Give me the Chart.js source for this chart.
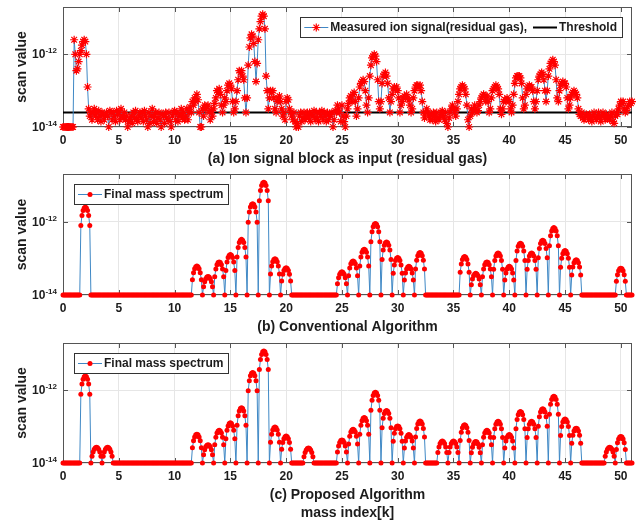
<!DOCTYPE html>
<html><head><meta charset="utf-8">
<script src="https://cdn.jsdelivr.net/npm/chart.js@4/dist/chart.umd.min.js"></script>
<style>
html,body{margin:0;padding:0;background:#fff;}
#wrap{position:relative;width:641px;height:524px;overflow:hidden;background:#fff;}
canvas{position:absolute;left:0;}
</style></head><body>
<div id="wrap">
<canvas id="ca" width="641" height="170" style="top:0px"></canvas>
<canvas id="cb" width="641" height="168" style="top:170px"></canvas>
<canvas id="cc" width="641" height="186" style="top:338px"></canvas>
</div>
<script>
// ---------- data ----------
const floorValue = 1e-14;
const thresholdValue = 2.5e-14;
const yMin = 1e-14, yMax = 2e-11;
const xMin = 0, xMax = 51;
const xTickValues = [0,5,10,15,20,25,30,35,40,45,50];
const yTickValues = [1e-14, 1e-12];
const yTickExponents = ['-14', '-12'];
const samplesPerMass = 10;

// measured ion signal, log10 of scan value, one row per mass unit (x = n.0 ... n.9)
const measuredLog10 = [
 -14,-14,-14,-14,-14,-14,-14,-14,-14,-14,
 -11.6,-12.0,-12.45,-12.4,-12.2,-12.0,-11.9,-11.75,-11.65,-11.6,
 -11.65,-12.0,-12.9,-13.5,-13.7,-13.6,-13.8,-13.6,-13.5,-13.7,
 -13.6,-13.8,-13.55,-13.7,-13.85,-13.6,-13.65,-13.8,-13.7,-13.6,
 -13.7,-14,-13.55,-13.6,-13.8,-13.6,-13.7,-13.85,-13.55,-13.65,
 -13.6,-13.8,-13.5,-13.7,-13.75,-13.6,-13.8,-13.7,-14,-13.85,
 -13.8,-13.7,-13.9,-13.6,-13.75,-13.55,-13.8,-13.85,-13.7,-13.6,
 -13.75,-13.6,-13.85,-13.55,-13.7,-13.8,-14,-13.6,-13.9,-13.7,
 -13.5,-13.85,-13.7,-13.6,-13.9,-13.75,-13.6,-13.8,-14,-13.65,
 -13.7,-13.9,-13.6,-13.75,-13.8,-13.6,-13.85,-14,-13.7,-13.6,
 -13.55,-13.8,-13.6,-13.85,-13.7,-13.65,-13.5,-13.75,-13.6,-13.8,
 -13.7,-13.5,-13.8,-13.6,-13.45,-13.6,-13.3,-13.4,-13.2,-13.3,
 -13.1,-13.25,-13.6,-14,-14,-13.5,-13.7,-13.4,-13.5,-13.45,
 -13.4,-13.6,-13.8,-13.55,-13.7,-13.5,-13.35,-13.2,-13.0,-13.05,
 -12.95,-13.1,-13.4,-13.6,-13.4,-13.2,-13.3,-13.0,-12.85,-12.8,
 -12.85,-12.95,-13.3,-13.6,-13.5,-13.3,-13.0,-12.7,-12.45,-12.5,
 -12.45,-12.6,-12.7,-13.2,-13.6,-13.2,-12.3,-11.8,-11.55,-11.45,
 -11.5,-11.7,-12.2,-12.75,-12.25,-11.6,-11.3,-11.1,-10.95,-10.9,
 -10.95,-11.3,-12.6,-13.0,-13.5,-13.2,-13.0,-13.05,-13.0,-13.2,
 -13.5,-13.6,-13.3,-13.2,-13.15,-13.3,-13.5,-13.7,-13.6,-13.8,
 -13.3,-13.2,-13.25,-13.5,-13.6,-13.7,-13.8,-13.6,-13.85,-14,
 -13.9,-14,-13.7,-13.6,-13.85,-13.75,-13.6,-13.8,-13.7,-13.6,
 -13.75,-13.6,-13.85,-13.65,-13.7,-13.55,-13.8,-13.6,-13.75,-13.85,
 -13.6,-13.7,-13.55,-13.8,-13.6,-13.7,-13.85,-13.6,-13.8,-13.65,
 -13.7,-13.6,-14,-13.8,-13.55,-13.6,-13.4,-13.5,-13.6,-13.85,
 -13.4,-13.7,-13.85,-14,-13.7,-13.5,-13.35,-13.2,-13.15,-13.3,
 -13.1,-13.05,-13.3,-13.7,-13.5,-13.2,-12.9,-12.8,-12.75,-12.7,
 -12.75,-13.0,-13.4,-13.6,-13.2,-12.6,-12.3,-12.1,-12.05,-12.0,
 -12.05,-12.2,-12.7,-13.3,-13.5,-13.3,-12.8,-12.6,-12.55,-12.5,
 -12.6,-12.8,-13.2,-13.6,-13.3,-13.1,-12.95,-12.9,-12.95,-12.9,
 -13.0,-13.2,-13.6,-13.4,-13.3,-13.2,-13.15,-13.2,-13.1,-13.2,
 -13.25,-13.4,-13.6,-13.5,-13.2,-13.0,-12.9,-12.85,-12.85,-12.9,
 -12.85,-13.0,-13.3,-13.6,-13.75,-13.6,-13.5,-13.6,-13.7,-13.8,
 -13.65,-13.8,-13.6,-13.7,-13.85,-13.6,-13.75,-13.8,-13.7,-13.6,
 -13.55,-13.7,-13.8,-13.6,-13.9,-14,-13.75,-13.6,-13.5,-13.4,
 -13.5,-13.6,-13.7,-13.5,-13.3,-13.1,-12.95,-12.9,-12.85,-12.9,
 -12.95,-13.1,-13.4,-13.8,-14,-13.7,-13.5,-13.6,-13.55,-13.4,
 -13.5,-13.6,-13.55,-13.4,-13.3,-13.2,-13.15,-13.1,-13.15,-13.3,
 -13.15,-13.3,-13.6,-13.5,-13.2,-13.0,-12.95,-12.9,-12.85,-12.9,
 -12.95,-13.1,-13.5,-13.65,-13.5,-13.3,-13.25,-13.3,-13.2,-13.25,
 -13.3,-13.5,-13.6,-13.4,-13.1,-12.8,-12.65,-12.6,-12.6,-12.6,
 -12.65,-12.8,-13.2,-13.5,-13.4,-13.1,-12.95,-12.9,-12.85,-12.9,
 -12.9,-13.0,-13.3,-13.5,-13.3,-13.0,-12.7,-12.6,-12.55,-12.5,
 -12.55,-12.7,-13.0,-13.3,-13.0,-12.6,-12.4,-12.25,-12.2,-12.15,
 -12.2,-12.3,-12.7,-13.2,-13.3,-13.0,-12.85,-12.8,-12.75,-12.8,
 -12.8,-12.9,-13.2,-13.5,-13.4,-13.2,-13.1,-13.05,-13.0,-13.05,
 -13.1,-13.2,-13.5,-13.65,-13.7,-13.6,-13.75,-13.8,-13.7,-13.65,
 -13.7,-13.8,-13.65,-13.75,-13.85,-13.7,-13.6,-13.75,-13.8,-13.7,
 -13.6,-13.75,-13.85,-13.7,-13.6,-13.7,-13.8,-13.65,-13.75,-13.7,
 -13.8,-13.7,-13.6,-13.85,-13.9,-13.7,-13.6,-13.65,-13.5,-13.4,
 -13.3,-13.35,-13.3,-13.5,-13.6,-13.55,-13.45,-13.4,-13.3,-13.35,
 -13.3
];

// peak tops of the final spectra
const convMasses  = [2,12,13,14,15,16,17,18,19,20,25,26,27,28,29,30,31,32,36,37,38,39,40,41,42,43,44,45,46,50];
const convHeights = [2.5e-12,6.2e-14,3.2e-14,8e-14,1.27e-13,3.3e-13,3.1e-12,1.2e-11,9.8e-14,5.5e-14,
                     4.3e-14,8.5e-14,1.78e-13,8.9e-13,2.8e-13,1.05e-13,6.1e-14,1.44e-13,
                     1.12e-13,3.9e-14,8e-14,1.41e-13,6.1e-14,2.6e-13,1.41e-13,3.1e-13,6.9e-13,1.63e-13,9.1e-14,5.4e-14];
const propMasses  = [2,3,4,12,13,14,15,16,17,18,19,20,22,25,26,27,28,29,30,31,32,34,35,36,37,38,39,40,41,42,43,44,45,46,49,50];
const propHeights = [2.5e-12,2.7e-14,2.7e-14,6.2e-14,3.2e-14,8e-14,1.27e-13,3.3e-13,3.1e-12,1.2e-11,9.8e-14,5.5e-14,2.6e-14,
                     4.3e-14,8.5e-14,1.78e-13,8.9e-13,2.8e-13,1.05e-13,6.1e-14,1.44e-13,4.0e-14,4.0e-14,
                     1.12e-13,3.9e-14,8e-14,1.41e-13,6.1e-14,2.6e-13,1.41e-13,3.1e-13,6.9e-13,1.63e-13,9.1e-14,2.7e-14,5.4e-14];
// relative dome shape of one peak, samples at offsets -0.4 ... +0.4
const domeProfile = [0.31,0.59,0.81,0.95,1,0.95,0.81,0.59,0.31];

// ---------- build point lists ----------
const measuredPoints = measuredLog10.map((e,i)=>({x:i/samplesPerMass, y:Math.pow(10,e)}));
const thresholdPoints = [{x:xMin,y:thresholdValue},{x:xMax,y:thresholdValue}];
function spectrumPoints(masses, heights){
  const pts=[];
  for(let i=0;i<measuredLog10.length;i++){
    const x=i/samplesPerMass, m=Math.round(x), off=i-m*samplesPerMass;
    const k=masses.indexOf(m);
    let v=floorValue;
    if(k>=0 && Math.abs(off)<=4) v=floorValue+(heights[k]-floorValue)*domeProfile[off+4];
    pts.push({x:x,y:v});
  }
  return pts;
}
const convPoints = spectrumPoints(convMasses, convHeights);
const propPoints = spectrumPoints(propMasses, propHeights);

// ---------- drawing ----------
const FONT = '"Liberation Sans", Arial, Helvetica, sans-serif';
const TXT = '#1c1c1c';
const BLUE = '#3f88c5';
const RED = '#ff0000';

const decorPlugin = {
  id:'decor',
  beforeDatasetsDraw(chart){
    const ctx=chart.ctx, a=chart.chartArea;
    ctx.save();
    ctx.strokeStyle='#555'; ctx.lineWidth=1;
    ctx.strokeRect(Math.round(a.left)+0.5, Math.round(a.top)+0.5, Math.round(a.right-a.left)-1, Math.round(a.bottom-a.top)-1);
    // inward tick marks
    const xs=chart.scales.x, ys=chart.scales.y;
    ctx.beginPath();
    xTickValues.forEach(v=>{const p=Math.round(xs.getPixelForValue(v))+0.5;
      ctx.moveTo(p,a.bottom); ctx.lineTo(p,a.bottom-5); ctx.moveTo(p,a.top); ctx.lineTo(p,a.top+5);});
    yTickValues.forEach(v=>{const p=Math.round(ys.getPixelForValue(v))+0.5;
      ctx.moveTo(a.left,p); ctx.lineTo(a.left+5,p); ctx.moveTo(a.right,p); ctx.lineTo(a.right-5,p);});
    ctx.stroke();
    ctx.restore();
  },
  afterDraw(chart){
    const o=chart.options.plugins.decor, ctx=chart.ctx, a=chart.chartArea;
    const xs=chart.scales.x, ys=chart.scales.y;
    ctx.save();
    ctx.fillStyle=TXT;
    // x tick labels
    ctx.font='bold 12px '+FONT; ctx.textAlign='center'; ctx.textBaseline='middle';
    xTickValues.forEach(v=>ctx.fillText(String(v), xs.getPixelForValue(v), a.bottom+14));
    // y tick labels 10^e
    yTickValues.forEach((v,i)=>{
      const p=ys.getPixelForValue(v);
      ctx.font='bold 8px '+FONT; ctx.textAlign='right'; ctx.textBaseline='alphabetic';
      const ew=ctx.measureText(yTickExponents[i]).width;
      ctx.fillText(yTickExponents[i], a.left-6, p-1);
      ctx.font='bold 12px '+FONT;
      ctx.fillText('10', a.left-6-ew, p+4);
    });
    // y axis title
    ctx.save();
    ctx.translate(22,(a.top+a.bottom)/2); ctx.rotate(-Math.PI/2);
    ctx.font='bold 14px '+FONT; ctx.textAlign='center'; ctx.textBaseline='middle';
    ctx.fillText('scan value',0,0);
    ctx.restore();
    // panel title(s)
    ctx.font='bold 14px '+FONT; ctx.textAlign='center'; ctx.textBaseline='middle';
    o.titles.forEach((t,i)=>ctx.fillText(t,(a.left+a.right)/2, a.bottom+32+i*18));
    // legend
    ctx.font='bold 12px '+FONT; ctx.textBaseline='middle';
    const items=o.legend, h=20;
    let widths=items.map(it=>ctx.measureText(it.text).width);
    let total=4; items.forEach((it,i)=>{ total+= 26 + 1 + widths[i] + 5; });
    total-=1;
    let left = o.legendRight ? (a.right-10-total) : (a.left+11);
    const top=a.top+10;
    ctx.fillStyle='#fff'; ctx.fillRect(left,top,total,h);
    ctx.strokeStyle='#333'; ctx.lineWidth=1; ctx.strokeRect(Math.round(left)+0.5,Math.round(top)+0.5,Math.round(total),h);
    let x=left+4; const cy=top+h/2+0.5;
    items.forEach((it,i)=>{
      ctx.strokeStyle=it.line; ctx.lineWidth=it.lw;
      ctx.beginPath(); ctx.moveTo(x,cy); ctx.lineTo(x+24,cy); ctx.stroke();
      if(it.marker==='star'){
        ctx.strokeStyle=RED; ctx.lineWidth=1.2; ctx.beginPath();
        const r=4, c=x+12;
        ctx.moveTo(c-r,cy); ctx.lineTo(c+r,cy); ctx.moveTo(c,cy-r); ctx.lineTo(c,cy+r);
        const d=r*0.7; ctx.moveTo(c-d,cy-d); ctx.lineTo(c+d,cy+d); ctx.moveTo(c-d,cy+d); ctx.lineTo(c+d,cy-d);
        ctx.stroke();
      } else if(it.marker==='dot'){
        ctx.fillStyle=RED; ctx.beginPath(); ctx.arc(x+12,cy,2.5,0,Math.PI*2); ctx.fill();
      }
      ctx.fillStyle=TXT; ctx.textAlign='left';
      ctx.fillText(it.text, x+26, cy);
      x += 26 + 1 + widths[i] + 5;
    });
    ctx.restore();
  }
};

function scales(){
  return {
    x:{type:'linear', min:xMin, max:xMax,
       grid:{color:'#e6e6e6', lineWidth:1, drawTicks:false}, border:{display:false},
       ticks:{display:false}, afterBuildTicks:s=>{s.ticks=xTickValues.map(v=>({value:v}));}},
    y:{type:'logarithmic', min:yMin, max:yMax,
       grid:{color:'#e6e6e6', lineWidth:1, drawTicks:false}, border:{display:false},
       ticks:{display:false}, afterBuildTicks:s=>{s.ticks=yTickValues.map(v=>({value:v}));}}
  };
}

function makeChart(id, datasets, padding, decor){
  return new Chart(document.getElementById(id), {
    type:'line',
    data:{datasets:datasets},
    options:{
      responsive:false, animation:false, parsing:false, normalized:true,
      layout:{padding:padding, autoPadding:false},
      scales:scales(),
      plugins:{legend:{display:false}, tooltip:{enabled:false}, decor:decor},
      elements:{line:{tension:0}}
    },
    plugins:[decorPlugin]
  });
}

function spectrumDataset(pts){
  return {data:pts, borderColor:BLUE, borderWidth:1, pointStyle:'circle', pointRadius:2.5,
          pointBackgroundColor:RED, pointBorderWidth:0, pointBorderColor:RED, clip:false};
}

makeChart('ca', [
  {data:measuredPoints, borderColor:BLUE, borderWidth:1, pointStyle:'star', pointRadius:4,
   pointBorderColor:RED, pointBackgroundColor:RED, pointBorderWidth:1.2, clip:false},
  {data:thresholdPoints, borderColor:'#000', borderWidth:2, pointRadius:0, clip:false}
], {left:63, right:9, top:7, bottom:43}, {
  titles:['(a) Ion signal block as input (residual gas)'], legendRight:true,
  legend:[{text:'Measured ion signal(residual gas),', line:BLUE, lw:1, marker:'star'},
          {text:'Threshold', line:'#000', lw:2, marker:null}]
});

makeChart('cb', [spectrumDataset(convPoints)], {left:63, right:9, top:4, bottom:43}, {
  titles:['(b) Conventional Algorithm'], legendRight:false,
  legend:[{text:'Final mass spectrum', line:BLUE, lw:1, marker:'dot'}]
});

makeChart('cc', [spectrumDataset(propPoints)], {left:63, right:9, top:5, bottom:61}, {
  titles:['(c) Proposed Algorithm','mass index[k]'], legendRight:false,
  legend:[{text:'Final mass spectrum', line:BLUE, lw:1, marker:'dot'}]
});
</script>
</body></html>
